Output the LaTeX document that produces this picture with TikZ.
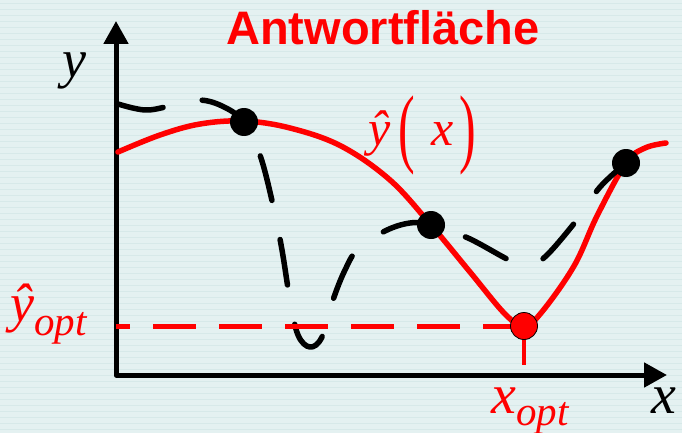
\documentclass[tikz,border=0pt]{standalone}
\usepackage{fontspec}
\setmainfont{Liberation Serif}
\newfontfamily\titlefont{Liberation Sans}
\usetikzlibrary{arrows.meta}
\newcommand\fsz[1]{\fontsize{#1}{#1}\selectfont}
\begin{document}
\begin{tikzpicture}[x=1pt,y=-1pt,
  curve/.style={line width=5.5pt,line cap=round,line join=round},
  bdot/.style={circle,fill=black,inner sep=0pt,minimum size=28pt},
  rdot/.style={circle,fill=red,draw=black,line width=0.8pt,inner sep=0pt,minimum size=27pt},
  axis/.style={line width=5pt,line join=round,{Triangle[length=23pt,width=24pt]}-{Triangle[length=23pt,width=24pt]}},
  lbl/.style={inner sep=0pt,anchor=base west}]
  \definecolor{paper}{HTML}{E4F1F1}
  \definecolor{paperline}{HTML}{D7E9E9}
  % background
  \useasboundingbox (0,0) rectangle (682,433);
  \fill[paper] (0,0) rectangle (682,433);
  \foreach \k in {0,...,72} {
    \draw[paperline,line width=0.6pt] (0,\k*6+3) -- (682,\k*6+3);
  }
  % title
  \node[text=red,font=\titlefont\bfseries\fsz{47},anchor=base] (title) at (383,45) {Antwortfläche};
  % axes
  \coordinate (O) at (116,375);
  \coordinate (ytip) at (116,21);
  \coordinate (xtip) at (667,375);
  \draw[axis] (ytip) -- (O) -- (xtip);
  \node[lbl] (ylab) at (62,78) {\fsz{54}\textit{y}};
  \node[lbl] (xlab) at (651,413) {\fsz{56}\textit{x}};
  % model curve
  \draw[red,curve] plot[smooth,tension=0.6] coordinates {(118,152) (160,135) (200,124) (244,121)
    (290,128) (341,146) (390,180) (431,225) (470,272) (505,314) (524,326) (541,313)
    (574,266) (597,216) (626,163) (645,148) (666,143)};
  % true response, dashed
  \draw[curve,dash pattern=on 46pt off 40pt] plot[smooth,tension=0.6] coordinates {(118,104) (145,110)
    (170,106) (198,100) (222,106) (244,122) (260,155) (273,205) (282,250) (290,300) (298,335)
    (310,347) (322,337) (333,300) (345,270) (358,249) (385,231) (410,223) (431,225) (468,238)
    (511,261) (528,265) (546,256) (580,216) (600,187) (626,163)};
  % optimum
  \coordinate (optc) at (524,326);
  \coordinate (ymark) at (116,326);
  \coordinate (tickend) at (524,365);
  \draw[red,line width=5pt,dash pattern=on 43pt off 23pt,dash phase=29pt] (ymark) -- (optc);
  \draw[red,line width=4pt] (optc) -- (tickend);
  \node[rdot] (popt) at (optc) {};
  % support points
  \node[bdot] (d1) at (244,122) {};
  \node[bdot] (d2) at (431,225) {};
  \node[bdot] (d3) at (626,163) {};
  % labels
  \node[lbl,text=red] (yhatx) at (368,145) {\fsz{50}\textit{ŷ}\hspace{8pt}\raisebox{-11pt}{\scalebox{1}[1.75]{(}}\hspace{16pt}\textit{x}\hspace{6pt}\raisebox{-11pt}{\scalebox{1}[1.75]{)}}};
  \node[lbl,text=red] (yopt) at (10,321) {\fsz{54}\textit{ŷ}\raisebox{-14pt}{\fsz{41}\textit{opt}}};
  \node[lbl,text=red] (xopt) at (491,413) {\fsz{56}\textit{x}\raisebox{-12pt}{\fsz{41}\textit{opt}}};
\end{tikzpicture}
\end{document}
